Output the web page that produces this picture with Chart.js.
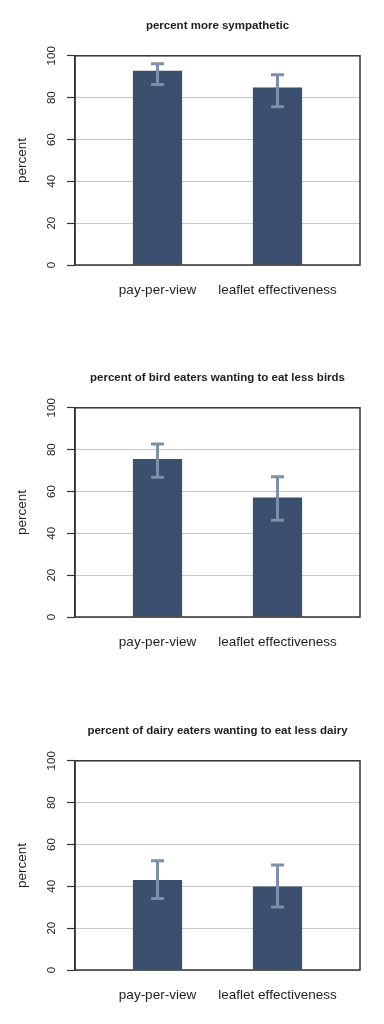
<!DOCTYPE html>
<html>
<head>
<meta charset="utf-8">
<script src="https://cdn.jsdelivr.net/npm/chart.js@4/dist/chart.umd.min.js"></script>
<style>
  html, body { margin: 0; padding: 0; background: #ffffff; }
  body { width: 384px; height: 1024px; position: relative; overflow: hidden; }
  canvas { position: absolute; left: 0; }
</style>
</head>
<body>
<canvas id="c1" width="384" height="310" style="top:0px"></canvas>
<canvas id="c2" width="384" height="310" style="top:352px"></canvas>
<canvas id="c3" width="384" height="310" style="top:705px"></canvas>
<script>
// ---- data ----
const categories = ["pay-per-view", "leaflet effectiveness"];
const yTicks = [0, 20, 40, 60, 80, 100];

const titles = [
  "percent more sympathetic",
  "percent of bird eaters wanting to eat less birds",
  "percent of dairy eaters wanting to eat less dairy"
];

const sympatheticValues = [92.8, 84.8];
const sympatheticLow    = [86.3, 75.7];
const sympatheticHigh   = [96.2, 90.9];

const birdValues = [75.5, 57.1];
const birdLow    = [66.8, 46.3];
const birdHigh   = [82.7, 67.0];

const dairyValues = [43.0, 39.9];
const dairyLow    = [34.2, 30.1];
const dairyHigh   = [52.2, 50.2];

// ---- styling ----
const FONT = '"Liberation Sans", Arial, Helvetica, sans-serif';
const BAR_COLOR = '#3b4f6f';
const ERR_COLOR = '#7d8fab';
const AXIS_COLOR = '#333333';
const GRID_COLOR = '#c8c8c8';
const TEXT_COLOR = '#1e1e1e';

const errorBarPlugin = {
  id: 'errorBars',
  afterDatasetsDraw(chart, args, opts) {
    const {ctx} = chart;
    const xs = chart.scales.x, ys = chart.scales.y;
    ctx.save();
    ctx.strokeStyle = ERR_COLOR;
    ctx.lineWidth = 3;
    ctx.lineCap = 'butt';
    opts.low.forEach((lo, i) => {
      const hi = opts.high[i];
      const x = xs.getPixelForValue(i + 1);
      const yLo = ys.getPixelForValue(lo);
      const yHi = ys.getPixelForValue(hi);
      const half = 6.5;
      ctx.beginPath();
      ctx.moveTo(x, yLo); ctx.lineTo(x, yHi);
      ctx.moveTo(x - half, yLo); ctx.lineTo(x + half, yLo);
      ctx.moveTo(x - half, yHi); ctx.lineTo(x + half, yHi);
      ctx.stroke();
    });
    ctx.restore();
  }
};

const boxPlugin = {
  id: 'plotBox',
  afterDraw(chart) {
    const {ctx, chartArea: a} = chart;
    ctx.save();
    ctx.strokeStyle = AXIS_COLOR;
    ctx.lineWidth = 1.5;
    ctx.strokeRect(a.left, a.top, a.right - a.left, a.bottom - a.top);
    ctx.restore();
  }
};

function makeChart(id, title, values, low, high) {
  const points = categories.map((c, i) => ({x: i + 1, y: values[i]}));
  return new Chart(document.getElementById(id), {
    type: 'bar',
    data: {
      datasets: [{
        data: points,
        backgroundColor: BAR_COLOR,
        borderWidth: 0,
        categoryPercentage: 1,
        barPercentage: 0.41
      }]
    },
    options: {
      responsive: false,
      animation: false,
      layout: { padding: { left: 0, right: 24, top: 0, bottom: 0 } },
      plugins: {
        legend: { display: false },
        tooltip: { enabled: false },
        title: {
          display: true,
          text: title,
          fullSize: false,
          color: TEXT_COLOR,
          font: { family: FONT, size: 11.5, weight: 'bold', lineHeight: 1.2 },
          padding: { top: 19, bottom: 23 }
        },
        errorBars: { low: low, high: high }
      },
      scales: {
        x: {
          type: 'linear',
          offset: false,
          min: 0.3125,
          max: 2.6875,
          afterBuildTicks(scale) {
            scale.ticks = categories.map((c, i) => ({value: i + 1}));
          },
          afterFit(scale) { scale.height = 45; },
          grid: { display: false, drawTicks: false },
          border: { display: false },
          ticks: {
            autoSkip: false,
            maxRotation: 0,
            padding: 17,
            color: TEXT_COLOR,
            font: { family: FONT, size: 13.5 },
            callback: (v) => categories[v - 1] ?? ''
          }
        },
        y: {
          min: 0,
          max: 100,
          afterBuildTicks(scale) {
            scale.ticks = yTicks.map(v => ({value: v}));
          },
          afterFit(scale) { scale.width = 75; },
          grid: {
            color: GRID_COLOR,
            lineWidth: 1,
            drawTicks: true,
            tickLength: 8,
            tickColor: AXIS_COLOR,
            tickWidth: 1.2
          },
          border: { display: true, color: AXIS_COLOR, width: 1.5 },
          ticks: {
            minRotation: 90,
            maxRotation: 90,
            crossAlign: 'center',
            padding: 6,
            color: TEXT_COLOR,
            font: { family: FONT, size: 11.5 }
          },
          title: {
            display: true,
            text: 'percent',
            color: TEXT_COLOR,
            font: { family: FONT, size: 13.5 },
            padding: { top: 14, bottom: 0 }
          }
        }
      }
    },
    plugins: [errorBarPlugin, boxPlugin]
  });
}

makeChart('c1', titles[0], sympatheticValues, sympatheticLow, sympatheticHigh);
makeChart('c2', titles[1], birdValues, birdLow, birdHigh);
makeChart('c3', titles[2], dairyValues, dairyLow, dairyHigh);
</script>
</body>
</html>
